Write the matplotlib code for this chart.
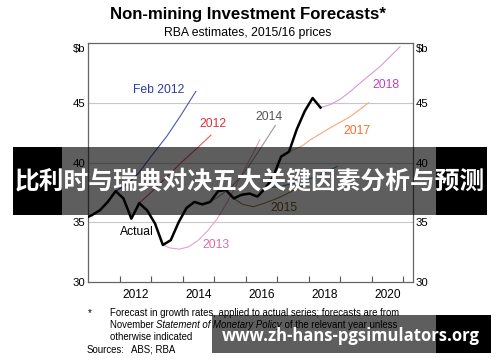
import matplotlib
matplotlib.use("Agg")
import matplotlib.pyplot as plt
from matplotlib.patches import Rectangle

plt.rcParams["font.family"] = ["Liberation Sans", "DejaVu Sans"]

# actual series (quarterly, $b, 2015/16 prices)
actual_x = [2010.875, 2011.125, 2011.375, 2011.625, 2011.875, 2012.125, 2012.375, 2012.625,
            2012.875, 2013.125, 2013.375, 2013.625, 2013.875, 2014.125, 2014.375, 2014.625,
            2014.875, 2015.125, 2015.375, 2015.625, 2015.875, 2016.125, 2016.375, 2016.625,
            2016.875, 2017.125, 2017.375, 2017.625, 2017.875, 2018.125, 2018.375]
actual_y = [35.3, 35.6, 36.0, 36.7, 37.6, 37.0, 35.3, 36.6,
            36.0, 34.9, 33.1, 33.5, 35.0, 36.2, 36.7, 36.5,
            36.7, 37.6, 37.7, 37.0, 37.3, 37.4, 37.15, 37.85,
            38.8, 40.5, 40.9, 42.8, 44.3, 45.4, 44.6]

# forecasts
feb2012_x = [2011.875, 2012.25, 2012.6, 2013.0, 2013.5, 2013.92, 2014.42]
feb2012_y = [37.6, 38.2, 39.1, 40.5, 42.2, 43.85, 45.95]

f2012_x = [2012.625, 2013.0, 2013.5, 2014.0, 2014.5, 2014.9]
f2012_y = [36.6, 37.5, 38.8, 40.1, 41.3, 42.3]

f2013_x = [2013.375, 2013.6, 2013.9, 2014.2, 2014.5, 2014.8, 2015.1, 2015.4, 2015.7,
           2016.0, 2016.3, 2016.45]
f2013_y = [33.1, 32.85, 32.75, 32.95, 33.5, 34.3, 35.3, 36.6, 38.1, 39.6, 41.1, 41.9]

f2014_x = [2014.625, 2015.0, 2015.5, 2016.0, 2016.5, 2016.94]
f2014_y = [36.5, 36.9, 37.8, 39.3, 41.3, 43.1]

f2015_x = [2015.625, 2015.9, 2016.25, 2016.6, 2017.0, 2017.4, 2017.9]
f2015_y = [37.0, 36.5, 36.3, 36.6, 37.0, 37.5, 38.2]

f2016_x = [2016.625, 2017.1, 2017.6, 2018.26, 2018.9]
f2016_y = [37.85, 38.0, 38.3, 38.83, 39.67]

f2017_x = [2017.375, 2017.8, 2018.05, 2018.68, 2019.32, 2019.9]
f2017_y = [40.9, 41.4, 41.9, 42.9, 43.85, 45.0]

f2018_x = [2018.375, 2018.68, 2019.0, 2019.32, 2019.74, 2020.27, 2020.9]
f2018_y = [44.6, 44.84, 45.3, 45.95, 46.9, 48.05, 49.7]

year_ticks = [2012, 2013, 2014, 2015, 2016, 2017, 2018, 2019, 2020, 2021]
year_labels = ["2012", "2014", "2016", "2018", "2020"]
y_ticks = [30, 35, 40, 45]

fig = plt.figure(figsize=(5, 3.62), dpi=100)
ax = fig.add_axes([0.176, 0.221, 0.6494, 0.660])

for v in [35, 40, 45]:
    ax.axhline(v, color="#c8c8c8", lw=0.8, zorder=0)

series = [
    (feb2012_x, feb2012_y, "#4a58b0"),
    (f2012_x, f2012_y, "#ec5a62"),
    (f2013_x, f2013_y, "#e6a2c8"),
    (f2014_x, f2014_y, "#9a9a9a"),
    (f2015_x, f2015_y, "#a08448"),
    (f2016_x, f2016_y, "#4a98b8"),
    (f2017_x, f2017_y, "#f6a878"),
    (f2018_x, f2018_y, "#d898dc"),
]
for xs, ys, c in series:
    ax.plot(xs, ys, color=c, lw=0.8, zorder=2)

ax.plot(actual_x, actual_y, color="black", lw=1.8, zorder=3)

labels = [
    ("Feb 2012", 2013.25, 46.09, "#2b3d9c"),
    ("2012", 2014.97, 43.24, "#e0303c"),
    ("2014", 2016.73, 43.83, "#555555"),
    ("Actual", 2012.56, 34.19, "black"),
    ("2013", 2015.06, 33.1, "#d070a8"),
    ("2015", 2017.22, 36.23, "#7a5a20"),
    ("2017", 2019.54, 42.66, "#f07030"),
    ("2018", 2020.46, 46.51, "#c040c0"),
]
for t, x, y, c in labels:
    ax.text(x, y, t, color=c, fontsize=8.7, ha="center", va="center", zorder=4)

ax.set_xlim(2011.0, 2021.3)
ax.set_ylim(30, 50)

ax.set_xticks(year_ticks)
ax.set_xticklabels([])
ax.set_xticks([int(s) + 0.5 for s in year_labels], minor=True)
ax.set_xticklabels(year_labels, minor=True)
ax.tick_params(axis="x", which="major", direction="in", length=4, width=0.8, color="#555555")
ax.tick_params(axis="x", which="minor", length=0, pad=5, labelsize=8.6)

ax.set_yticks(y_ticks + [49.6])
ax.set_yticklabels([str(v) for v in y_ticks] + ["$b"])
ax.tick_params(axis="y", length=0, pad=2, labelsize=8.2, left=True, right=True,
               labelleft=True, labelright=True)

for s in ax.spines.values():
    s.set_color("#666666")
    s.set_linewidth(0.9)

fig.text(0.496, 1 - 15 / 362, "Non-mining Investment Forecasts*", ha="center", va="center",
         fontsize=12.1, fontweight="bold")
fig.text(0.496, 1 - 32.7 / 362, "RBA estimates, 2015/16 prices", ha="center", va="center",
         fontsize=8.8)

# footnote
fs = 6.9
fig.text(88 / 500, 1 - 313 / 362, "*", fontsize=fs, va="center")
fig.text(110 / 500, 1 - 313 / 362,
         "Forecast in growth rates, applied to actual series; forecasts are from",
         fontsize=fs, va="center")
renderer = fig.canvas.get_renderer()
x0 = 110 / 500
y2 = 1 - 325 / 362
pieces = [("November ", "normal"), ("Statement of Monetary Policy", "italic"),
          (" of the relevant year unless", "normal")]
for txt, style in pieces:
    t = fig.text(x0, y2, txt, fontsize=fs, va="center", style=style)
    bb = t.get_window_extent(renderer)
    x0 += bb.width / fig.bbox.width
fig.text(110 / 500, 1 - 337 / 362, "otherwise indicated", fontsize=fs, va="center")
fig.text(87 / 500, 1 - 350 / 362, "Sources:", fontsize=fs, va="center")
fig.text(131 / 500, 1 - 350 / 362, "ABS; RBA", fontsize=fs, va="center")


# overlay banners
def rect(x1, x2, y1, y2, alpha):
    fig.add_artist(Rectangle((x1 / 500, 1 - y2 / 362), (x2 - x1) / 500, (y2 - y1) / 362,
                             transform=fig.transFigure, facecolor="black", alpha=alpha,
                             edgecolor="none", zorder=10))


rect(13, 62, 147, 215, 1.0)
rect(62, 436, 147, 215, 0.63)
rect(436, 487, 147, 215, 1.0)
fig.text(250 / 500, 1 - 182 / 362, "比利时与瑞典对决五大关键因素分析与预测",
         family=["Noto Sans CJK SC", "DejaVu Sans"], fontweight="bold", fontsize=17.8,
         color="white", ha="center", va="center", zorder=11)

rect(212, 436, 315, 353, 0.63)
rect(436, 491, 315, 353, 1.0)
wm = fig.text(351 / 500, 1 - 336 / 362, "www.zh-hans-pgsimulators.org",
              family=["Open Sans", "DejaVu Sans"], fontweight="bold", fontsize=12,
              color="white", ha="center", va="center", zorder=11)
w = wm.get_window_extent(renderer).width
wm.set_fontsize(12 * 258 / w)

fig.savefig("out.png", dpi=100)
